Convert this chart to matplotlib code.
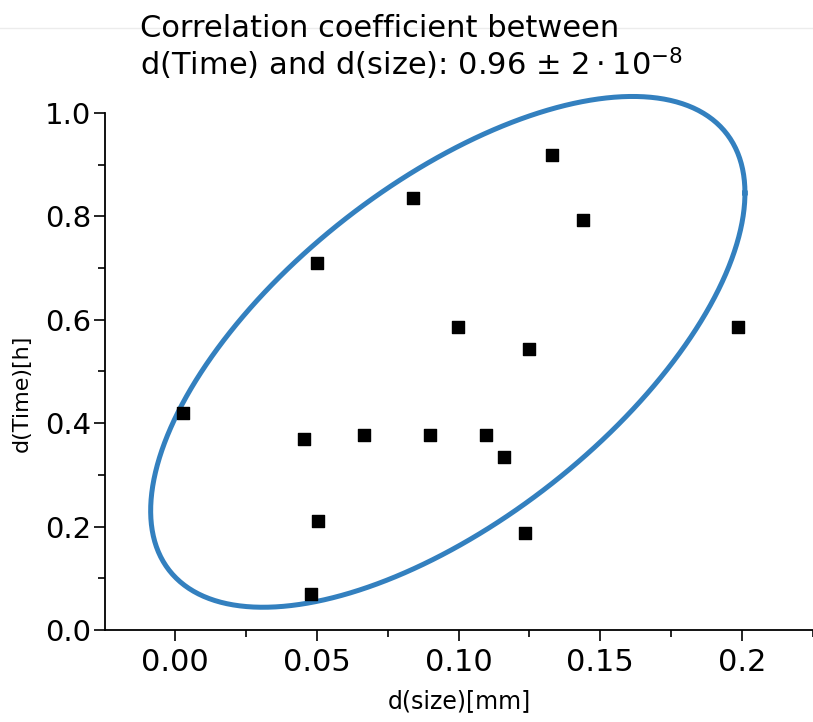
import numpy as np
import matplotlib.pyplot as plt
import matplotlib.ticker as mticker
from matplotlib.lines import Line2D

plt.rcParams['mathtext.fontset'] = 'dejavusans'

# dados
d_size = [0.0028, 0.0455, 0.050, 0.0505, 0.048, 0.0667, 0.084, 0.090,
          0.0999, 0.1097, 0.116, 0.1249, 0.1235, 0.133, 0.144, 0.1987]
d_time = [0.420, 0.369, 0.710, 0.211, 0.070, 0.377, 0.836, 0.377,
          0.586, 0.377, 0.335, 0.5435, 0.188, 0.919, 0.793, 0.586]

# elipse de correlacao (centro, desvios e covariancia)
ell_center = (0.0962, 0.538)
ell_sx = 0.1048
ell_sy = 0.494
ell_cxy = 0.0322

xticks = [0.0, 0.05, 0.10, 0.15, 0.2]
xticklabels = ['0.00', '0.05', '0.10', '0.15', '0.2']
yticks = [0.0, 0.2, 0.4, 0.6, 0.8, 1.0]

fig = plt.figure(figsize=(8.13, 7.22), dpi=100)
ax = fig.add_axes([105 / 813, 92 / 722, 708 / 813, 517 / 722])

# linha cinza clara no topo (como na imagem original)
fig.add_artist(Line2D([0, 1], [1 - 28 / 722] * 2, color='#ececec', lw=1))

# elipse
cov = np.array([[ell_sx ** 2, ell_cxy], [ell_cxy, ell_sy ** 2]])
L = np.linalg.cholesky(cov)
t = np.linspace(0, 2 * np.pi, 400)
pts = L @ np.vstack([np.cos(t), np.sin(t)])
ax.plot(ell_center[0] + pts[0], ell_center[1] + pts[1], color='#3380bf',
        lw=3.6, clip_on=False, zorder=2)

ax.scatter(d_size, d_time, marker='s', s=78, color='black', zorder=3)

ax.set_xlim(-0.0247, 0.225)
ax.set_ylim(0, 1.0)
ax.spines['top'].set_visible(False)
ax.spines['right'].set_visible(False)
ax.spines['left'].set_linewidth(1.3)
ax.spines['bottom'].set_linewidth(1.3)

ax.set_xticks(xticks)
ax.set_xticklabels(xticklabels, fontsize=22)
ax.xaxis.set_minor_locator(mticker.MultipleLocator(0.025))
ax.set_yticks(yticks)
ax.set_yticklabels([f'{v:.1f}' for v in yticks], fontsize=21)
ax.yaxis.set_minor_locator(mticker.MultipleLocator(0.1))
ax.tick_params(which='major', length=8, width=1.2)
ax.tick_params(which='minor', length=5, width=1.2)
ax.tick_params(axis='x', pad=5)
ax.tick_params(axis='y', pad=2)

ax.set_xlabel('d(size)[mm]', fontsize=17, labelpad=9)
ax.set_ylabel('d(Time)[h]', fontsize=16)
ax.yaxis.set_label_coords(-0.104, 0.458)

fig.text(140 / 813, 1 - 37 / 722, 'Correlation coefficient between',
         fontsize=22, ha='left', va='baseline')
fig.text(140 / 813, 1 - 75 / 722,
         'd(Time) and d(size): 0.96 $\\pm$ $2\\cdot10^{-8}$',
         fontsize=22, ha='left', va='baseline')

fig.savefig('out.png', dpi=100)
